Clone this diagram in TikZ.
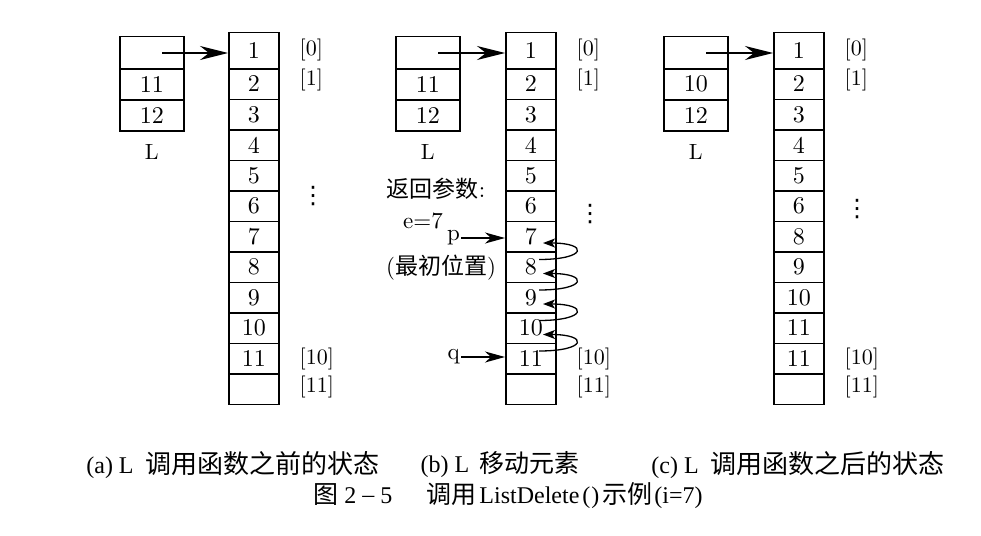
\documentclass[tikz,border=0pt]{standalone}
\usepackage{fontspec}
\setmainfont{lmroman10-regular.otf}
\newfontfamily\cjk{Noto Sans CJK SC}
\newfontfamily\tnr{Liberation Serif}
\newfontfamily\djv{DejaVu Sans}
\usetikzlibrary{arrows.meta,calc}
\newcommand{\mydots}{{\djv\fontsize{24}{28}\selectfont ⋮}}
\tikzset{
  every node/.style={font=\fontsize{24}{28}\selectfont},
  cellc/.style={draw,line width=1.5pt,minimum width=50pt,text width=42pt,inner xsep=4pt,inner ysep=0pt,align=center,anchor=north west},
  celll/.style={cellc,align=left},
  lbox/.style={draw,line width=1.5pt,minimum width=64pt,text width=56pt,inner xsep=4pt,inner ysep=0pt,align=center,anchor=north west},
  bigarr/.style={line width=1.5pt,-{Stealth[length=28pt,width=14pt,inset=9pt]}},
  midarr/.style={line width=1.5pt,-{Stealth[length=20pt,width=11pt,inset=6pt]}},
  carr/.style={line width=1.3pt,-{Stealth[length=12pt,width=9pt,inset=3pt]}},
  idx/.style={anchor=west,inner sep=0pt,font=\fontsize{22}{26}\selectfont},
  dotsn/.style={inner sep=0pt},
  capt/.style={inner sep=0pt,font=\fontsize{24}{28}\selectfont\tnr},
  side/.style={inner sep=1pt,font=\fontsize{23}{27}\selectfont}
}
\newcommand{\mkcolumn}[3]{%
  \foreach \v/\al [count=\i] in {#3} {
    \pgfmathsetmacro\yt{\i==1 ? 32 : 68+(\i-2)*30.5}
    \pgfmathsetmacro\hh{\i==1 ? 36 : 30.5}
    \ifx\al l
      \node[celll,minimum height=\hh pt] (#1\i) at (#2,\yt) {\v};
    \else
      \node[cellc,minimum height=\hh pt] (#1\i) at (#2,\yt) {\v};
    \fi
  }%
}
\newcommand{\mkL}[3]{%
  \node[lbox,minimum height=32pt] (#1L1) at (#2,36) {};
  \node[lbox,minimum height=31pt] (#1L2) at (#2,68) {#3};
  \node[lbox,minimum height=31pt] (#1L3) at (#2,99) {12};
  \node[font=\fontsize{22}{26}\selectfont] (#1Lname) at ($(#1L3.south)+(0,20)$) {L};
}
\begin{document}
\begin{tikzpicture}[x=1pt,y=-1pt]
\useasboundingbox (0,0) rectangle (981,535);

% ---------- panel (a)
\mkcolumn{a}{228}{1/c,2/c,3/c,4/c,5/c,6/c,7/c,8/c,9/c,10/l,11/l,{}/c}
\mkL{a}{119}{11}
\coordinate (as) at (162,53);
\draw[bigarr] (as) -- (as -| a1.west);
\node[idx] (ai0) at ($(a1.east)+(20,-1)$) {[0]};
\node[idx] (ai1) at ($(a2.east)+(20,-4)$) {[1]};
\node[dotsn] (adots) at (313,196) {\mydots};
\node[idx] (ai10) at ($(a11.east)+(20,0)$) {[10]};
\node[idx] (ai11) at ($(a12.east)+(20,-2)$) {[11]};

% ---------- panel (b)
\mkcolumn{b}{505}{1/c,2/c,3/c,4/c,5/c,6/c,7/c,8/c,9/c,10/l,11/l,{}/c}
\mkL{b}{395}{11}
\coordinate (bs) at (438,53);
\draw[bigarr] (bs) -- (bs -| b1.west);
\node[idx] (bi0) at ($(b1.east)+(20,-1)$) {[0]};
\node[idx] (bi1) at ($(b2.east)+(20,-4)$) {[1]};
\node[dotsn] (bdots) at (590,214) {\mydots};
\node[idx] (bi10) at ($(b11.east)+(20,0)$) {[10]};
\node[idx] (bi11) at ($(b12.east)+(20,-2)$) {[11]};
\node[side] (ret) at (436,189) {{\cjk 返回参数}:};
\node[side] (ev) at (423,221) {e=7};
\node[side,anchor=east] (pl) at (461,238) {p};
\draw[midarr] (pl.east) -- (pl.east -| b7.west);
\node[side] (init) at (441,268) {({\cjk 最初位置})};
\node[side,anchor=east] (ql) at (461,357) {q};
\draw[midarr] (ql.east) -- (ql.east -| b11.west);
\foreach \k/\n in {7/8,8/9,9/10,10/11} {
  \coordinate (cs\k) at ($(b\n.north west)+(34,8.5)$);
  \coordinate (ce\k) at ($(b\k.south west)+(38,-9.5)$);
  \draw[carr] (cs\k) .. controls +(48,0) and +(46,0) .. (ce\k);
}

% ---------- panel (c)
\mkcolumn{c}{773}{1/c,2/c,3/c,4/c,5/c,6/c,8/c,9/c,10/l,11/l,11/l,{}/c}
\mkL{c}{663}{10}
\coordinate (cs) at (706,53);
\draw[bigarr] (cs) -- (cs -| c1.west);
\node[idx] (ci0) at ($(c1.east)+(20,-1)$) {[0]};
\node[idx] (ci1) at ($(c2.east)+(20,-4)$) {[1]};
\node[dotsn] (cdots) at (857,209) {\mydots};
\node[idx] (ci10) at ($(c11.east)+(20,0)$) {[10]};
\node[idx] (ci11) at ($(c12.east)+(20,-2)$) {[11]};

% ---------- captions
\node[capt] (capa) at (233,465) {(a)\hspace{6pt}L\hspace{12pt}{\fontsize{26}{28}\selectfont\cjk 调用函数之前的状态}};
\node[capt] (capb) at (500,465) {(b)\hspace{6pt}L\hspace{10pt}{\fontsize{25}{28}\selectfont\cjk 移动元素}};
\node[capt] (capc) at (798,465) {(c)\hspace{6pt}L\hspace{12pt}{\fontsize{26}{28}\selectfont\cjk 调用函数之后的状态}};
\node[capt] (capm) at (508,496) {{\fontsize{25}{28}\selectfont\cjk 图}\hspace{6pt}2\hspace{6pt}\raisebox{1pt}{–}\hspace{6pt}5\hspace{34pt}{\fontsize{25}{28}\selectfont\cjk 调用}\hspace{3pt}ListDelete\hspace{3pt}(\hspace{1pt})\hspace{3pt}{\fontsize{25}{28}\selectfont\cjk 示例}\hspace{2pt}(i=7)};
\end{tikzpicture}
\end{document}
